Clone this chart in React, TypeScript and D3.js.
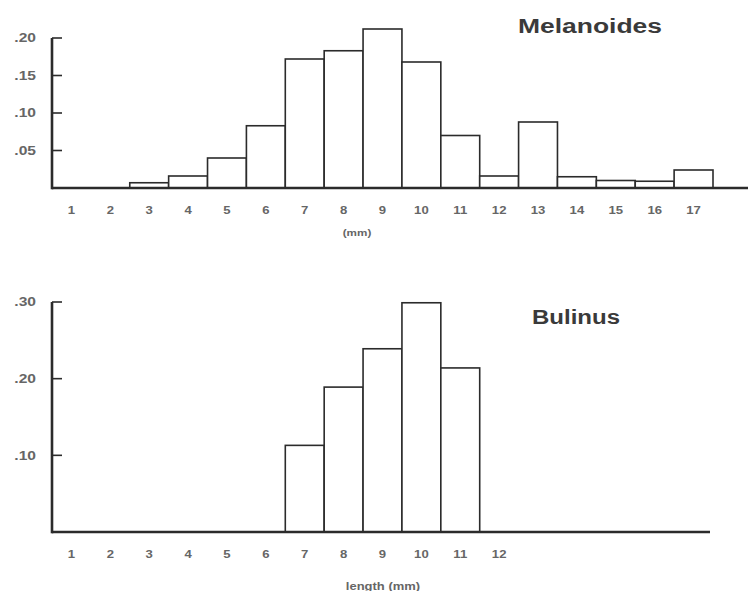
import React from "react";
import { scaleLinear, range } from "d3";

// length classes (mm) and relative frequencies
const melanoidesBins = range(1, 18);
const melanoidesFreq = [0, 0, 0.007, 0.016, 0.04, 0.083, 0.172, 0.183, 0.212, 0.168, 0.07, 0.016, 0.088, 0.015, 0.01, 0.009, 0.024];
const melanoidesTicks = [".05", ".10", ".15", ".20"];
const melanoidesTickValues = [0.05, 0.1, 0.15, 0.2];

const bulinusBins = range(1, 12);
const bulinusFreq = [0, 0, 0, 0, 0, 0, 0.113, 0.189, 0.239, 0.299, 0.214];
const bulinusTicks = [".10", ".20", ".30"];
const bulinusTickValues = [0.1, 0.2, 0.3];
const bulinusLabels = range(1, 13);

const FONT = "'Liberation Sans', Arial, Helvetica, sans-serif";
const INK = "#2b2b2b";
const GRAY = "#666";

const x = scaleLinear().domain([0, 17]).range([52, 713]);

// the scanned lettering is wider than Arial, so stretch it sideways
function Wide({ x, y, anchor = "middle", size = 10.5, sx = 1.25, fill = GRAY, children }) {
  return (
    <text
      transform={`translate(${x},${y}) scale(${sx},1)`}
      dy="0.35em"
      textAnchor={anchor}
      fontSize={size}
      fontWeight="bold"
      fill={fill}
      fontFamily={FONT}
    >
      {children}
    </text>
  );
}

function Panel({ bins, freq, labels, yMax, yTop, yBase, tickValues, tickText, axisEnd, title, titleX, titleY, titleW, xTitle }) {
  const y = scaleLinear().domain([0, yMax]).range([yBase, yTop]);
  return (
    <g>
      {bins.map((b, i) =>
        freq[i] > 0 ? (
          <rect
            key={b}
            x={x(b - 1)}
            y={y(freq[i])}
            width={x(b) - x(b - 1)}
            height={y(0) - y(freq[i])}
            fill="#fff"
            stroke={INK}
            strokeWidth={1.6}
          />
        ) : null
      )}
      {/* axes */}
      <line x1={x(0)} x2={axisEnd} y1={y(0)} y2={y(0)} stroke={INK} strokeWidth={2.6} />
      <line x1={x(0)} x2={x(0)} y1={y(0) + 1.3} y2={y(yMax)} stroke={INK} strokeWidth={2.6} />
      {tickValues.map((v, i) => (
        <g key={v}>
          <line x1={x(0)} x2={x(0) + 10} y1={y(v)} y2={y(v)} stroke={INK} strokeWidth={1.6} />
          <Wide x={36} y={y(v)} anchor="end" size={12} sx={1.3}>
            {tickText[i]}
          </Wide>
        </g>
      ))}
      {labels.map((b) => (
        <Wide key={b} x={x(b - 0.5)} y={y(0) + 22} size={10.5}>
          {b}
        </Wide>
      ))}
      <Wide x={xTitle.x} y={xTitle.y} size={xTitle.size} sx={1.3}>
        {xTitle.text}
      </Wide>
      <text x={titleX} y={titleY} textLength={titleW} lengthAdjust="spacingAndGlyphs" fontSize={20} fontWeight="bold" fill="#3a3a3a" fontFamily={FONT}>
        {title}
      </text>
    </g>
  );
}

export default function App() {
  return (
    <svg width={748} height={591} style={{ position: "absolute", left: 0, top: 0, background: "#fff" }}>
      <rect width={748} height={591} fill="#fff" />
      <Panel
        bins={melanoidesBins}
        freq={melanoidesFreq}
        labels={melanoidesBins}
        yMax={0.2}
        yTop={38}
        yBase={188}
        tickValues={melanoidesTickValues}
        tickText={melanoidesTicks}
        axisEnd={748}
        title="Melanoides"
        titleX={518}
        titleY={33}
        titleW={144}
        xTitle={{ x: 357, y: 233, size: 9, text: "(mm)" }}
      />
      <Panel
        bins={bulinusBins}
        freq={bulinusFreq}
        labels={bulinusLabels}
        yMax={0.3}
        yTop={302}
        yBase={532}
        tickValues={bulinusTickValues}
        tickText={bulinusTicks}
        axisEnd={710}
        title="Bulinus"
        titleX={532}
        titleY={324}
        titleW={88}
        xTitle={{ x: 383, y: 586, size: 10, text: "length (mm)" }}
      />
    </svg>
  );
}
